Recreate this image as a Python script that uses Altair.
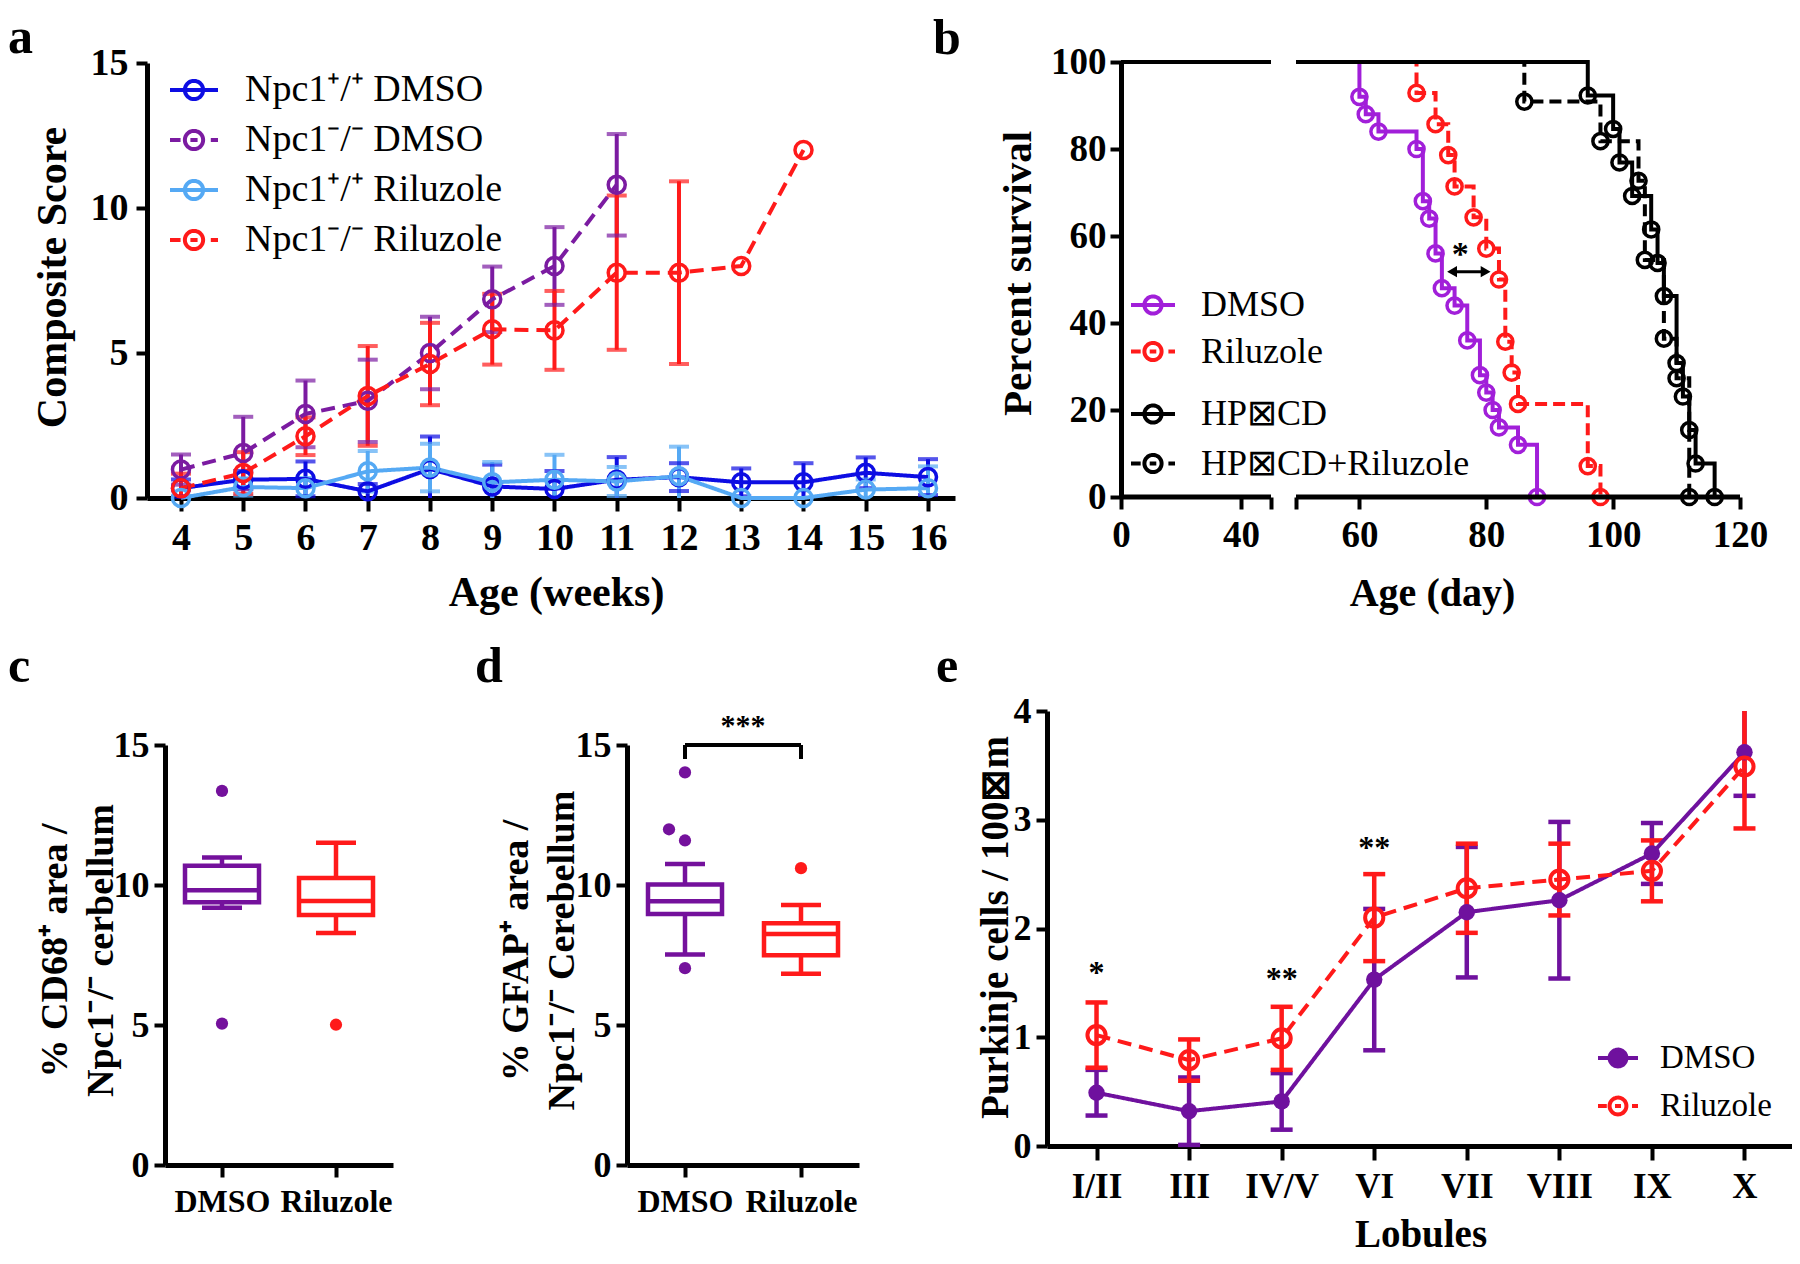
import altair as alt
import pandas as pd

SERIF = "Liberation Serif"
W, H = 1784, 1248          # whole figure (svg) size; svg coords = picture coords - 8

# =====================  DATA  =====================
# ---- panel a : composite score ----
weeks = [4, 5, 6, 7, 8, 9, 10, 11, 12, 13, 14, 15, 16]
a_series = ["Npc1⁺/⁺ DMSO", "Npc1⁻/⁻ DMSO", "Npc1⁺/⁺ Riluzole", "Npc1⁻/⁻ Riluzole"]
a_colors = ["#0D0DE3", "#7B1BA1", "#55A9F4", "#FF1A1A"]
wt_dmso_mean = [0.34, 0.63, 0.66, 0.23, 1.00, 0.40, 0.31, 0.63, 0.72, 0.54, 0.54, 0.87, 0.72]
wt_dmso_sem = [0.30, 0.30, 0.60, 0.25, 1.12, 0.75, 0.62, 0.78, 0.48, 0.48, 0.66, 0.53, 0.62]
wt_ril_mean = [0.00, 0.38, 0.34, 0.92, 1.05, 0.54, 0.63, 0.57, 0.75, 0.00, 0.00, 0.29, 0.34]
wt_ril_sem = [0.00, 0.30, 0.35, 0.70, 0.82, 0.70, 0.86, 0.50, 1.02, 0.00, 0.00, 0.35, 0.75]
ko_dmso_weeks = [4, 5, 6, 7, 8, 9, 10, 11]
ko_dmso_mean = [0.98, 1.55, 2.90, 3.35, 5.00, 6.85, 8.00, 10.80]
ko_dmso_sem = [0.52, 1.25, 1.15, 1.42, 1.25, 1.13, 1.34, 1.75]
ko_ril_weeks = [4, 5, 6, 7, 8, 9, 10, 11, 12, 13, 14]
ko_ril_mean = [0.34, 0.86, 2.13, 3.52, 4.62, 5.82, 5.78, 7.77, 7.77, 8.00, 12.00]
ko_ril_sem = [0.50, 0.72, 0.65, 1.72, 1.42, 1.22, 1.36, 2.66, 3.15, 0.00, 0.00]

# ---- panel b : Kaplan-Meier survival ----
b_series1 = ["DMSO", "Riluzole"]
b_colors1 = ["#A11FD9", "#FF1A1A"]
km_dmso_day = [0, 60, 61, 63, 69, 70, 71, 72, 73, 75, 77, 79, 80, 81, 82, 85, 88]
km_dmso_surv = [100, 92, 88, 84, 80, 68, 64, 56, 48, 44, 36, 28, 24, 20, 16, 12, 0]
km_ril_day = [0, 69, 72, 74, 75, 78, 80, 82, 83, 84, 85, 96, 98]
km_ril_surv = [100, 92.9, 85.7, 78.6, 71.4, 64.3, 57.1, 50.0, 35.7, 28.6, 21.4, 7.1, 0]
b_series2 = ["HP⊠CD", "HP⊠CD+Riluzole"]
b_colors2 = ["#000000", "#000000"]
km_hp_day = [0, 96, 100, 101, 103, 106, 107, 108, 110, 111, 112, 113, 116]
km_hp_surv = [100, 92.3, 84.6, 76.9, 69.2, 61.5, 53.8, 46.2, 30.8, 23.1, 15.4, 7.7, 0]
km_hpril_day = [0, 86, 98, 104, 105, 108, 110, 112]
km_hpril_surv = [100, 90.9, 81.8, 72.7, 54.5, 36.4, 27.3, 0]

# ---- panels c, d : box plots ----
groups = ["DMSO", "Riluzole"]
cd_colors = ["#74119C", "#FF1A1A"]
c_wlo = [9.19, 8.29]
c_q1 = [9.38, 8.93]
c_med = [9.81, 9.43]
c_q3 = [10.69, 10.25]
c_whi = [10.98, 11.51]
c_out_group = ["DMSO", "DMSO", "Riluzole"]
c_out_val = [13.36, 5.05, 5.01]
d_wlo = [7.52, 6.83]
d_q1 = [8.96, 7.49]
d_med = [9.42, 8.25]
d_q3 = [10.02, 8.63]
d_whi = [10.75, 9.29]
d_out_group = ["DMSO", "DMSO", "DMSO", "Riluzole"]
d_out_val = [14.02, 11.59, 7.03, 10.60]
d_out_shift_group = ["DMSO"]
d_out_shift_val = [11.99]

# ---- panel e : Purkinje cells ----
lobules = ["I/II", "III", "IV/V", "VI", "VII", "VIII", "IX", "X"]
e_series = ["DMSO", "Riluzole"]
e_colors = ["#6F119E", "#FF1A1A"]
e_dmso_mean = [0.49, 0.32, 0.41, 1.53, 2.15, 2.26, 2.69, 3.62]
e_dmso_sem = [0.21, 0.31, 0.26, 0.65, 0.60, 0.72, 0.28, 0.40]
e_ril_mean = [1.02, 0.79, 0.99, 2.10, 2.37, 2.45, 2.53, 3.49]
e_ril_sem = [0.30, 0.19, 0.29, 0.40, 0.41, 0.33, 0.28, 0.57]
e_star_lob = ["I/II", "IV/V", "VI"]
e_star_y = [1.645, 1.595, 2.80]
e_star_txt = ["*", "**", "**"]


# =====================  HELPERS  =====================
def qscale(domain, rng):
    return alt.Scale(domain=domain, range=rng, nice=False, zero=False)


def circle_path(r):
    return f"M{-r},0A{r},{r},0,1,0,{r},0A{r},{r},0,1,0,{-r},0"


def sym_solid(r):
    return "M-1,0L1,0" + circle_path(r)


def sym_dash(r):
    return "M-1,0L-0.56,0M0.7,0L1,0M-0.15,0L0.15,0" + circle_path(r)


def sel_expr(values, options, default):
    expr = f"'{default}'"
    for v, o in zip(reversed(values), reversed(options)):
        expr = f"datum.value === '{v}' ? '{o}' : ({expr})"
    return expr


def legend(x, y, size, offset, rowpad, fsize, values, shapes, fills=None):
    kw = {}
    if fills is None:
        kw["symbolFillColor"] = "transparent"
    else:
        kw["symbolFillColor"] = {"expr": sel_expr(values, fills, fills[-1])}
    return alt.Legend(orient="none", legendX=x, legendY=y, title=None,
                      symbolType={"expr": sel_expr(values, shapes, shapes[-1])},
                      symbolSize=size, symbolStrokeWidth=4, symbolDash=[1, 0],
                      symbolOpacity=1, labelFont=SERIF, labelFontSize=fsize,
                      labelColor="black", labelOffset=offset, rowPadding=rowpad,
                      padding=0, labelLimit=1000, **kw)


def legend_layer(df, series_field, xenc, yenc, domain, colors, leg):
    """A line layer holding one point per series: draws nothing, only carries the legend."""
    first = df.groupby(series_field, sort=False).head(1)
    return alt.Chart(first).mark_line(strokeWidth=4).encode(
        x=xenc, y=yenc,
        color=alt.Color(f"{series_field}:N", scale=alt.Scale(domain=domain, range=colors), legend=leg))


layers = []

# =====================  PANEL a  =====================
A_XS = dict(domain=[3.454, 16.434], rng=[139, 947])
A_YS = dict(domain=[0, 15], rng=[490, 55])

a_rows = []
a_src = {
    a_series[0]: (weeks, wt_dmso_mean, wt_dmso_sem),
    a_series[1]: (ko_dmso_weeks, ko_dmso_mean, ko_dmso_sem),
    a_series[2]: (weeks, wt_ril_mean, wt_ril_sem),
    a_series[3]: (ko_ril_weeks, ko_ril_mean, ko_ril_sem),
}
for name in [a_series[0], a_series[2], a_series[1], a_series[3]]:
    wk, mn, se = a_src[name]
    for w, m, s in zip(wk, mn, se):
        a_rows.append(dict(series=name, week=w, mean=m, sem=s,
                           lo=max(0.0, m - s), hi=m + s))
dfa = pd.DataFrame(a_rows)
dfa_err = dfa[dfa["sem"] > 0]
caps = []
for _, r in dfa_err.iterrows():
    caps.append(dict(series=r["series"], week=r["week"], v=r["hi"]))
    if r["mean"] - r["sem"] > 0.02:
        caps.append(dict(series=r["series"], week=r["week"], v=r["lo"]))
dfa_caps = pd.DataFrame(caps)


def a_color(leg=None):
    return alt.Color("series:N", scale=alt.Scale(domain=a_series, range=a_colors), legend=leg)


def ax_(field="week:Q", axis=None):
    return alt.X(field, scale=qscale(A_XS["domain"], A_XS["rng"]), axis=axis)


def ay_(field, axis=None):
    return alt.Y(field, scale=qscale(A_YS["domain"], A_YS["rng"]), axis=axis)


a_xaxis = alt.Axis(orient="bottom", offset=490 - H, values=weeks, tickSize=13,
                   labelPadding=8, labelFontSize=38, format="d",
                   title="Age (weeks)", titleFontSize=42, titleX=548, titleY=107,
                   titleBaseline="alphabetic")
a_yaxis = alt.Axis(orient="left", offset=-139, values=[0, 5, 10, 15], tickSize=11,
                   labelPadding=8, labelFontSize=38,
                   title="Composite Score", titleFontSize=42, titleX=-82, titleY=269,
                   titleBaseline="alphabetic")

layers.append(alt.Chart(dfa_err).mark_rule(strokeWidth=4).encode(
    x=ax_(axis=a_xaxis), y=ay_("lo:Q", a_yaxis), y2="hi:Q", color=a_color()))
layers.append(alt.Chart(dfa_caps).mark_tick(orient="horizontal", size=20, thickness=4).encode(
    x=ax_(), y=ay_("v:Q"), color=a_color()))
layers.append(alt.Chart(dfa).mark_line(strokeWidth=4).encode(
    x=ax_(), y=ay_("mean:Q"), color=a_color(),
    strokeDash=alt.StrokeDash("series:N", scale=alt.Scale(
        domain=a_series, range=[[1, 0], [14, 8], [1, 0], [14, 8]]), legend=None)))
layers.append(alt.Chart(dfa).mark_point(shape="circle", filled=False, size=290,
                                        strokeWidth=3.5, opacity=1).encode(
    x=ax_(), y=ay_("mean:Q"), color=a_color()))
a_leg = legend(160, 56, 2304, 25, 5, 38, a_series,
               [sym_solid(0.38), sym_dash(0.38), sym_solid(0.38), sym_dash(0.38)])
layers.append(legend_layer(dfa, "series", ax_(), ay_("mean:Q"), a_series, a_colors, a_leg))

# =====================  PANEL b  =====================
B_XD = [0, 49.99, 50, 120]
B_XR = [1113, 1263, 1288, 1732]
B_YS = dict(domain=[0, 100], rng=[489, 54])


def km_frame(pairs):
    rows = []
    for name, days, surv in pairs:
        for d, s in zip(days, surv):
            rows.append(dict(series=name, day=d, surv=s))
    return pd.DataFrame(rows)


dfb1 = km_frame([("DMSO", km_dmso_day, km_dmso_surv), ("Riluzole", km_ril_day, km_ril_surv)])
dfb2 = km_frame([("HP⊠CD+Riluzole", km_hpril_day, km_hpril_surv), ("HP⊠CD", km_hp_day, km_hp_surv)])

b_xaxis = alt.Axis(orient="bottom", offset=489 - H, values=[0, 40, 49.99, 50, 60, 80, 100, 120],
                   domain=False, tickSize=12, labelPadding=8, labelFontSize=37,
                   labelExpr="(datum.value > 45 && datum.value < 55) ? '' : datum.label",
                   title="Age (day)", titleFontSize=40, titleX=1424, titleY=108,
                   titleBaseline="alphabetic")
b_yaxis = alt.Axis(orient="left", offset=-1113, values=[0, 20, 40, 60, 80, 100], tickSize=11,
                   labelPadding=4, labelFontSize=37,
                   title="Percent survival", titleFontSize=41, titleX=-91, titleY=265,
                   titleBaseline="alphabetic")


def bx(field="day:Q", axis=None):
    return alt.X(field, scale=alt.Scale(domain=B_XD, range=B_XR, nice=False, zero=False), axis=axis)


def by(field="surv:Q", axis=None):
    return alt.Y(field, scale=qscale(B_YS["domain"], B_YS["rng"]), axis=axis)


layers.append(alt.Chart(dfb1).mark_line(strokeWidth=4, interpolate="step-after").encode(
    x=bx(axis=b_xaxis), y=by(axis=b_yaxis),
    color=alt.Color("series:N", scale=alt.Scale(domain=b_series1, range=b_colors1), legend=None),
    strokeDash=alt.StrokeDash("series:N", scale=alt.Scale(domain=b_series1, range=[[1, 0], [12, 6]]),
                              legend=None)))
layers.append(alt.Chart(dfb1[dfb1["day"] > 0]).mark_point(shape="circle", filled=False, size=230,
                                                          strokeWidth=3.5, opacity=1).encode(
    x=bx(), y=by(),
    color=alt.Color("series:N", scale=alt.Scale(domain=b_series1, range=b_colors1), legend=None)))
layers.append(alt.Chart(dfb2).mark_line(strokeWidth=4, interpolate="step-after").encode(
    x=bx(), y=by(),
    color=alt.Color("series:N", scale=alt.Scale(domain=b_series2, range=b_colors2), legend=None),
    strokeDash=alt.StrokeDash("series:N", scale=alt.Scale(domain=b_series2, range=[[1, 0], [12, 6]]),
                              legend=None)))
layers.append(alt.Chart(dfb2[dfb2["day"] > 0]).mark_point(shape="circle", filled=False, size=230,
                                                          strokeWidth=3.5, opacity=1, color="black").encode(
    x=bx(), y=by()))
b_leg1 = legend(1121, 273, 1936, 24, 4.5, 36, b_series1, [sym_solid(0.39), sym_dash(0.39)])
b_leg2 = legend(1121, 382, 1936, 24, 7.5, 36, b_series2, [sym_solid(0.39), sym_dash(0.39)])
layers.append(legend_layer(dfb1, "series", bx(), by(), b_series1, b_colors1, b_leg1))
layers.append(legend_layer(dfb2, "series", bx(), by(), b_series2, b_colors2, b_leg2))
# axis break: white gap and two axis segments
layers.append(alt.Chart(pd.DataFrame({"a": [49.99], "b": [50], "lo": [94], "hi": [103]})).mark_rect(
    color="white").encode(x=bx("a:Q"), x2="b:Q", y=by("lo:Q"), y2="hi:Q"))
layers.append(alt.Chart(pd.DataFrame({"a": [0, 50], "b": [49.99, 120], "y": [0, 0]})).mark_rule(
    strokeWidth=5, color="black").encode(x=bx("a:Q"), x2="b:Q", y=by("y:Q")))
# significance arrow and star
layers.append(alt.Chart(pd.DataFrame({"a": [74.7], "b": [79.8], "y": [51.8]})).mark_rule(
    strokeWidth=3, color="black").encode(x=bx("a:Q"), x2="b:Q", y=by("y:Q")))
layers.append(alt.Chart(pd.DataFrame({"d": [74.6], "y": [51.8]})).mark_point(
    shape="triangle-left", filled=True, size=130, color="black", opacity=1).encode(x=bx("d:Q"), y=by("y:Q")))
layers.append(alt.Chart(pd.DataFrame({"d": [79.9], "y": [51.8]})).mark_point(
    shape="triangle-right", filled=True, size=130, color="black", opacity=1).encode(x=bx("d:Q"), y=by("y:Q")))
layers.append(alt.Chart(pd.DataFrame({"d": [75.9], "y": [57.2], "t": ["*"]})).mark_text(
    font=SERIF, fontSize=34, fontWeight="bold", color="black", baseline="middle", dy=7).encode(
    x=bx("d:Q"), y=by("y:Q"), text="t:N"))


# =====================  PANELS c, d  =====================
def box_panel(x0, x1, title, wlo, q1, med, q3, whi, og, ov, sg=None, sv=None, title_x=-99):
    ys = dict(domain=[0, 15], rng=[1157, 737])

    def X(axis=None):
        return alt.X("group:N", scale=alt.Scale(type="point", domain=groups, range=[x0, x1], padding=0.5),
                     axis=axis)

    def Y(field, axis=None):
        return alt.Y(field, scale=qscale(ys["domain"], ys["rng"]), axis=axis)

    col = lambda ch=alt.Color: ch("group:N", scale=alt.Scale(domain=groups, range=cd_colors), legend=None)
    xaxis = alt.Axis(orient="bottom", offset=1157 - H, tickSize=12, labelPadding=9, labelFontSize=32,
                     labelAngle=0, title=None)
    yaxis = alt.Axis(orient="left", offset=-x0, values=[0, 5, 10, 15], tickSize=11, labelPadding=5,
                     labelFontSize=36, title=title, titleFontSize=38, titleX=title_x, titleY=942,
                     titleLineHeight=46, titleBaseline="alphabetic")
    df = pd.DataFrame(dict(group=groups, wlo=wlo, q1=q1, med=med, q3=q3, whi=whi))
    dcap = pd.DataFrame(dict(group=groups + groups, v=list(wlo) + list(whi)))
    dout = pd.DataFrame(dict(group=og, v=ov))
    out = [
        alt.Chart(df).mark_rule(strokeWidth=4.5).encode(x=X(xaxis), y=Y("wlo:Q", yaxis), y2="whi:Q",
                                                         color=col()),
        alt.Chart(df).mark_bar(size=74, fill="white", strokeWidth=4.5).encode(
            x=X(), y=Y("q1:Q"), y2="q3:Q", stroke=col(alt.Stroke)),
        alt.Chart(df).mark_tick(size=74, thickness=4.5, opacity=1).encode(x=X(), y=Y("med:Q"), color=col()),
        alt.Chart(dcap).mark_tick(size=40, thickness=4.5, opacity=1).encode(x=X(), y=Y("v:Q"), color=col()),
        alt.Chart(dout).mark_circle(size=150, opacity=1).encode(x=X(), y=Y("v:Q"), color=col()),
    ]
    if sg:
        dsh = pd.DataFrame(dict(group=sg, v=sv))
        out.append(alt.Chart(dsh).mark_circle(size=150, opacity=1, xOffset=-16).encode(
            x=X(), y=Y("v:Q"), color=col()))
    return out


layers += box_panel(157, 385, ["% CD68⁺ area /", "Npc1⁻/⁻ cerbellum"],
                    c_wlo, c_q1, c_med, c_q3, c_whi, c_out_group, c_out_val)
layers += box_panel(619, 851, ["% GFAP⁺ area /", "Npc1⁻/⁻ Cerebellum"],
                    d_wlo, d_q1, d_med, d_q3, d_whi, d_out_group, d_out_val,
                    d_out_shift_group, d_out_shift_val, title_x=-100)

# significance bracket in d (between DMSO and Riluzole positions)
D_BX = dict(domain=[0, 1], rng=[677, 793])
D_BY = dict(domain=[0, 15], rng=[1157, 737])
layers.append(alt.Chart(pd.DataFrame({"a": [0, 0, 1], "b": [1, 0, 1], "y1": [15, 15, 15],
                                      "y2": [15, 14.5, 14.5]})).mark_rule(strokeWidth=4, color="black").encode(
    x=alt.X("a:Q", scale=qscale(D_BX["domain"], D_BX["rng"]), axis=None), x2="b:Q",
    y=alt.Y("y1:Q", scale=qscale(D_BY["domain"], D_BY["rng"]), axis=None), y2="y2:Q"))
layers.append(alt.Chart(pd.DataFrame({"a": [0.5], "y": [15.88], "t": ["***"]})).mark_text(
    font=SERIF, fontSize=30, fontWeight="bold", color="black", baseline="middle", dy=6).encode(
    x=alt.X("a:Q", scale=qscale(D_BX["domain"], D_BX["rng"]), axis=None),
    y=alt.Y("y:Q", scale=qscale(D_BY["domain"], D_BY["rng"]), axis=None), text="t:N"))

# =====================  PANEL e  =====================
E_XR = [1039, 1786]
E_YS = dict(domain=[0, 4], rng=[1138, 703])


def ex(axis=None):
    return alt.X("lob:N", scale=alt.Scale(type="point", domain=lobules, range=E_XR, padding=0.535),
                 axis=axis)


def ey(field, axis=None):
    return alt.Y(field, scale=qscale(E_YS["domain"], E_YS["rng"]), axis=axis)


e_rows = []
for name, mn, se in [("DMSO", e_dmso_mean, e_dmso_sem), ("Riluzole", e_ril_mean, e_ril_sem)]:
    for lob, m, s in zip(lobules, mn, se):
        e_rows.append(dict(series=name, lob=lob, mean=m, lo=max(0.0, m - s), hi=min(4.0, m + s),
                           topcap=(m + s) <= 4.0))
dfe = pd.DataFrame(e_rows)
e_caps = []
for _, r in dfe.iterrows():
    e_caps.append(dict(series=r["series"], lob=r["lob"], v=r["lo"]))
    if r["topcap"]:
        e_caps.append(dict(series=r["series"], lob=r["lob"], v=r["hi"]))
dfe_caps = pd.DataFrame(e_caps)

e_xaxis = alt.Axis(orient="bottom", offset=1138 - H, tickSize=14, labelPadding=9, labelFontSize=35,
                   labelAngle=0, title="Lobules", titleFontSize=39, titleY=100,
                   titleBaseline="alphabetic")
e_yaxis = alt.Axis(orient="left", offset=-1039, values=[0, 1, 2, 3, 4], tickSize=11, labelPadding=5,
                   labelFontSize=36, title="Purkinje cells / 100⊠m", titleFontSize=39,
                   titleX=-40, titleY=919, titleBaseline="alphabetic")

for i, name in enumerate(e_series):
    sub = dfe[dfe["series"] == name]
    subc = dfe_caps[dfe_caps["series"] == name]
    layers.append(alt.Chart(sub).mark_rule(strokeWidth=4.5, color=e_colors[i]).encode(
        x=ex(e_xaxis if i == 0 else None), y=ey("lo:Q", e_yaxis if i == 0 else None), y2="hi:Q"))
    layers.append(alt.Chart(subc).mark_tick(size=22, thickness=4.5, color=e_colors[i], opacity=1).encode(
        x=ex(), y=ey("v:Q")))

layers.append(alt.Chart(dfe).mark_line(strokeWidth=4).encode(
    x=ex(), y=ey("mean:Q"),
    color=alt.Color("series:N", scale=alt.Scale(domain=e_series, range=e_colors), legend=None),
    strokeDash=alt.StrokeDash("series:N", scale=alt.Scale(domain=e_series, range=[[1, 0], [14, 8]]),
                              legend=None)))
layers.append(alt.Chart(dfe[dfe["series"] == "DMSO"]).mark_circle(size=270, opacity=1, color=e_colors[0]).encode(
    x=ex(), y=ey("mean:Q")))
layers.append(alt.Chart(dfe[dfe["series"] == "Riluzole"]).mark_point(
    shape="circle", filled=False, size=330, strokeWidth=4, opacity=1, color=e_colors[1]).encode(
    x=ex(), y=ey("mean:Q")))
e_leg = legend(1588, 1028, 1600, 20, 9, 33, e_series, [sym_solid(0.42), sym_dash(0.42)],
               fills=[e_colors[0], "transparent"])
layers.append(legend_layer(dfe, "series", ex(), ey("mean:Q"), e_series, e_colors, e_leg))
layers.append(alt.Chart(pd.DataFrame({"lob": e_star_lob, "y": e_star_y, "t": e_star_txt})).mark_text(
    font=SERIF, fontSize=32, fontWeight="bold", color="black", baseline="middle", dy=6).encode(
    x=ex(), y=ey("y:Q"), text="t:N"))

# =====================  panel letters  =====================
for letter, lx, ly in [("a", 0, 45), ("b", 925, 46), ("c", 0, 674), ("d", 467, 674), ("e", 928, 674)]:
    layers.append(alt.Chart(pd.DataFrame({"t": [letter]})).mark_text(
        font=SERIF, fontSize=50, fontWeight="bold", color="black", align="left",
        baseline="alphabetic").encode(x=alt.value(lx), y=alt.value(ly), text="t:N"))

chart = alt.layer(*layers).resolve_scale(
    x="independent", y="independent", color="independent", strokeDash="independent",
    stroke="independent").resolve_axis(x="independent", y="independent").resolve_legend(
    color="independent", strokeDash="independent", stroke="independent").properties(
    width=W, height=H, autosize=alt.AutoSizeParams(type="none"), padding=0,
    background="white").configure_axis(
    labelFont=SERIF, titleFont=SERIF, labelFontWeight="bold", titleFontWeight="bold",
    labelColor="black", titleColor="black", domainColor="black", tickColor="black",
    domainWidth=5, tickWidth=4, grid=False, labelFlush=False, labelOverlap=False,
    labelBound=False).configure_view(stroke=None)

chart.save("out.html", embed_options={"renderer": "svg", "actions": False})
